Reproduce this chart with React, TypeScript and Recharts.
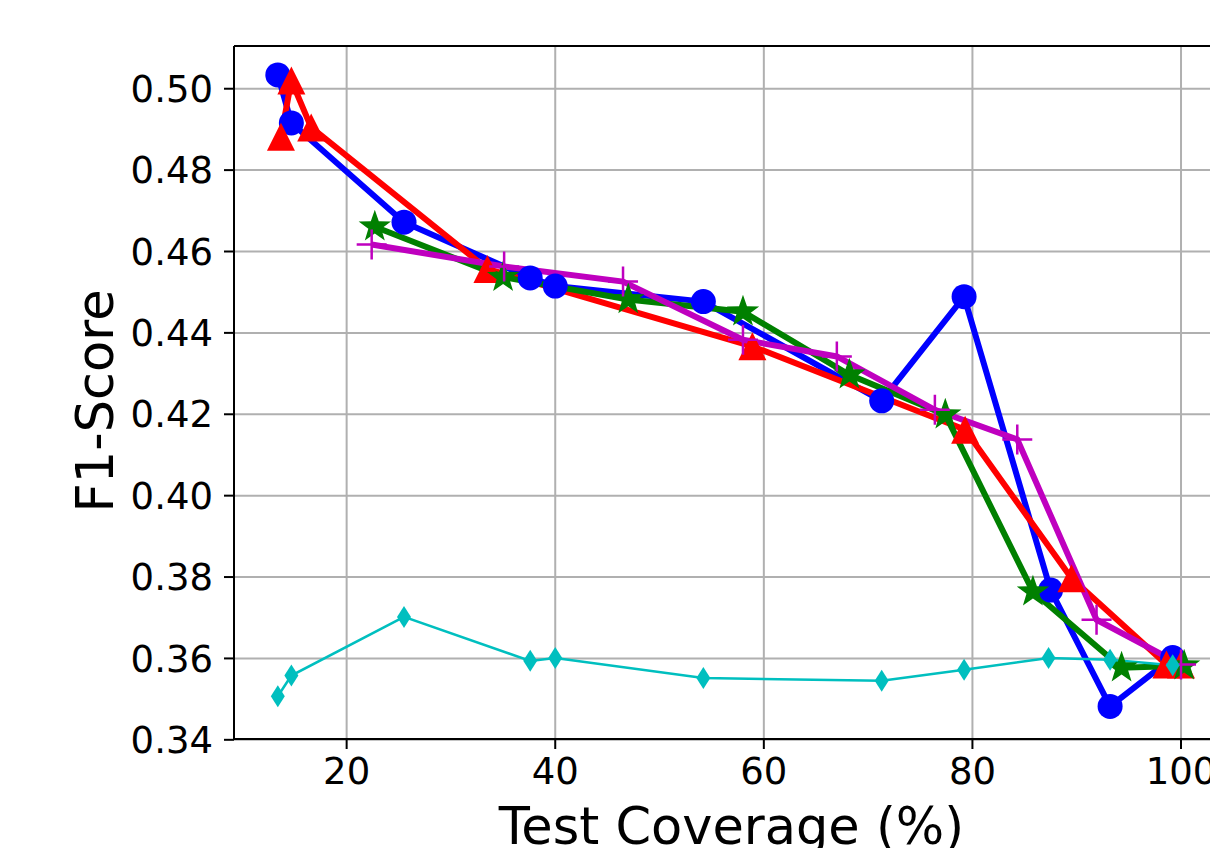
import { LineChart, Line, XAxis, YAxis, CartesianGrid, ReferenceLine, Label } from "recharts";

// coverage (%) and F1 per method
const blueX = [13.4, 14.7, 25.5, 37.6, 40.0, 54.2, 71.3, 79.2, 87.5, 93.2, 99.2];
const blueY = [0.5034, 0.4916, 0.4672, 0.4535, 0.4515, 0.4477, 0.4233, 0.4489, 0.3768, 0.3482, 0.3602];
const redX = [13.7, 14.7, 16.6, 33.5, 58.9, 79.3, 89.5, 98.6, 100.0];
const redY = [0.4882, 0.502, 0.4905, 0.4557, 0.4367, 0.4162, 0.3797, 0.3585, 0.3585];
const greenX = [22.7, 35.0, 47.0, 58.0, 68.2, 77.4, 85.8, 94.3, 100.3];
const greenY = [0.4661, 0.4537, 0.4482, 0.4452, 0.4297, 0.4199, 0.3764, 0.3577, 0.3582];
const magentaX = [22.4, 35.1, 46.5, 58.0, 67.0, 76.4, 84.3, 91.9, 100.0];
const magentaY = [0.4617, 0.4563, 0.4526, 0.4383, 0.4342, 0.4211, 0.4138, 0.3695, 0.3585];
const cyanX = [13.4, 14.7, 25.5, 37.6, 40.0, 54.2, 71.3, 79.2, 87.3, 93.2, 99.2];
const cyanY = [0.3507, 0.3558, 0.3702, 0.3594, 0.3601, 0.3552, 0.3545, 0.3572, 0.3601, 0.3597, 0.3583];

const xTicks = [20, 40, 60, 80, 100];
const yTicks = [0.34, 0.36, 0.38, 0.4, 0.42, 0.44, 0.46, 0.48, 0.5];

const toPts = (xs: number[], ys: number[]) => xs.map((x, i) => ({ x, y: ys[i] }));
const blue = toPts(blueX, blueY);
const red = toPts(redX, redY);
const green = toPts(greenX, greenY);
const magenta = toPts(magentaX, magentaY);
const cyan = toPts(cyanX, cyanY);

const FONT = "'DejaVu Sans', sans-serif";

const CircleDot = (p: any) => <circle key={p.index} cx={p.cx} cy={p.cy} r={12.5} fill='#0000ff' />;

const TriDot = (p: any) => {
  const s = 14;
  return (
    <polygon
      key={p.index}
      points={`${p.cx},${p.cy - s} ${p.cx - s},${p.cy + s} ${p.cx + s},${p.cy + s}`}
      fill='#ff0000'
    />
  );
};

const StarDot = (p: any) => {
  const R = 17;
  const r = R * 0.4;
  const pts: string[] = [];
  for (let k = 0; k < 10; k++) {
    const rad = k % 2 === 0 ? R : r;
    const a = -Math.PI / 2 + (k * Math.PI) / 5;
    pts.push(`${p.cx + rad * Math.cos(a)},${p.cy + rad * Math.sin(a)}`);
  }
  return <polygon key={p.index} points={pts.join(" ")} fill='#008000' />;
};

const PlusDot = (p: any) => {
  const s = 15;
  return (
    <path
      key={p.index}
      d={`M${p.cx - s},${p.cy}H${p.cx + s}M${p.cx},${p.cy - s}V${p.cy + s}`}
      stroke='#bf00bf'
      strokeWidth={2.5}
      fill='none'
    />
  );
};

const DiamondDot = (p: any) => {
  const w = 7;
  const h = 11;
  return (
    <polygon
      key={p.index}
      points={`${p.cx},${p.cy - h} ${p.cx + w},${p.cy} ${p.cx},${p.cy + h} ${p.cx - w},${p.cy}`}
      fill='#00bfbf'
    />
  );
};

const tickStyle = { fontSize: 37, fill: "#000", fontFamily: FONT };

export default function App() {
  return (
    <div style={{ position: "absolute", left: 0, top: 0, width: 1210, height: 848, overflow: "hidden", background: "#fff" }}>
      <LineChart width={1240} height={848} margin={{ top: 46, right: 11, left: 0, bottom: 0 }}>
        <CartesianGrid stroke='#b0b0b0' strokeWidth={2} />
        <XAxis
          type='number'
          dataKey='x'
          domain={[9.2, 104.6]}
          ticks={xTicks}
          allowDataOverflow
          height={109}
          tick={tickStyle}
          tickSize={10}
          tickMargin={9}
          axisLine={{ stroke: "#000", strokeWidth: 2 }}
          tickLine={{ stroke: "#000", strokeWidth: 2 }}
        >
          <Label value='Test Coverage (%)' position='insideBottom' offset={4} style={{ fontSize: 51, fill: "#000", fontFamily: FONT }} />
        </XAxis>
        <YAxis
          type='number'
          dataKey='y'
          domain={[0.3402, 0.5105]}
          ticks={yTicks}
          allowDataOverflow
          width={234}
          tick={tickStyle}
          tickSize={10}
          tickMargin={11}
          tickFormatter={(v: number) => v.toFixed(2)}
          axisLine={{ stroke: "#000", strokeWidth: 2 }}
          tickLine={{ stroke: "#000", strokeWidth: 2 }}
        >
          <Label
            content={() => (
              <text x={113} y={401} transform='rotate(-90 113 401)' textAnchor='middle' fontSize={51} fontFamily={FONT} fill='#000'>
                F1-Score
              </text>
            )}
          />
        </YAxis>
        <ReferenceLine y={0.5105} stroke='#000' strokeWidth={2} />
        <Line data={blue} dataKey='y' type='linear' stroke='#0000ff' strokeWidth={6} dot={CircleDot} activeDot={false} isAnimationActive={false} />
        <Line data={red} dataKey='y' type='linear' stroke='#ff0000' strokeWidth={6} dot={TriDot} activeDot={false} isAnimationActive={false} />
        <Line data={green} dataKey='y' type='linear' stroke='#008000' strokeWidth={6} dot={StarDot} activeDot={false} isAnimationActive={false} />
        <Line data={magenta} dataKey='y' type='linear' stroke='#bf00bf' strokeWidth={6} dot={PlusDot} activeDot={false} isAnimationActive={false} />
        <Line data={cyan} dataKey='y' type='linear' stroke='#00bfbf' strokeWidth={2.5} dot={DiamondDot} activeDot={false} isAnimationActive={false} />
      </LineChart>
    </div>
  );
}
